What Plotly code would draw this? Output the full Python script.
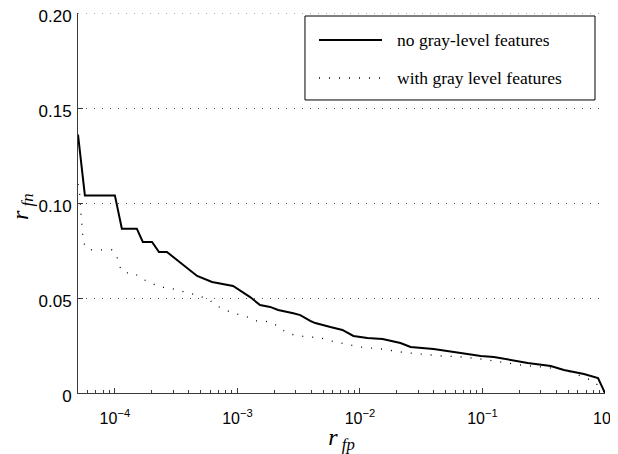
import math
import plotly.graph_objects as go

# ---- data (r_fp, r_fn) ----
no_gray_x = [5e-5, 5.69e-5, 1.0e-4, 1.14e-4, 1.51e-4, 1.69e-4, 2.01e-4, 2.29e-4, 2.66e-4,
             2.98e-4, 3.60e-4, 4.69e-4, 6.21e-4, 9.22e-4, 1.27e-3, 1.53e-3, 1.85e-3,
             2.15e-3, 2.86e-3, 3.26e-3, 3.93e-3, 4.32e-3, 5.74e-3, 7.19e-3, 8.85e-3,
             1.15e-2, 1.53e-2, 2.14e-2, 2.59e-2, 3.99e-2, 6.64e-2, 9.68e-2, 0.124,
             0.170, 0.234, 0.361, 0.462, 0.673, 0.877, 1.0]
no_gray_y = [0.136, 0.104, 0.104, 0.0865, 0.0865, 0.0795, 0.0795, 0.0742, 0.0742,
             0.0716, 0.0674, 0.0616, 0.0584, 0.0563, 0.0505, 0.0463, 0.0453,
             0.0437, 0.042, 0.041, 0.038, 0.0368, 0.0347, 0.0332, 0.030,
             0.029, 0.0284, 0.0263, 0.0242, 0.0232, 0.021, 0.0195, 0.019,
             0.0174, 0.0158, 0.0142, 0.0121, 0.010, 0.0079, 0.0]

gray_x = [5e-5, 5.18e-5, 5.30e-5, 5.47e-5, 5.69e-5, 6.49e-5, 9.45e-5, 1.04e-4, 1.10e-4,
          1.19e-4, 1.43e-4, 1.66e-4, 1.93e-4, 2.29e-4, 2.82e-4, 3.40e-4, 4.10e-4,
          4.95e-4, 5.76e-4, 6.83e-4, 7.94e-4, 9.40e-4, 1.16e-3, 1.40e-3, 1.62e-3,
          1.96e-3, 2.32e-3, 2.70e-3, 3.26e-3, 3.93e-3, 4.75e-3, 5.74e-3, 8.35e-3,
          1.01e-2, 1.47e-2, 2.14e-2, 3.13e-2, 4.56e-2, 6.64e-2, 9.68e-2, 0.141,
          0.206, 0.300, 0.437, 0.527, 0.637, 0.768, 0.928, 1.0]
gray_y = [0.11, 0.104, 0.093, 0.083, 0.077, 0.0753, 0.0753, 0.0716, 0.0663,
          0.0632, 0.0632, 0.060, 0.0584, 0.0558, 0.0553, 0.0537, 0.0526,
          0.051, 0.0495, 0.0458, 0.0437, 0.042, 0.0405, 0.038, 0.038,
          0.0368, 0.0332, 0.031, 0.030, 0.0295, 0.029, 0.0274, 0.0253,
          0.0242, 0.0232, 0.0216, 0.0205, 0.0195, 0.019, 0.0179, 0.0163,
          0.0147, 0.0137, 0.0126, 0.011, 0.009, 0.0068, 0.003, 0.0]

series_names = ["no gray-level features", "with gray level features"]

x_tickvals = [1e-4, 1e-3, 1e-2, 1e-1, 1]
x_ticktext = ["10<sup>\u22124</sup>", "10<sup>\u22123</sup>", "10<sup>\u22122</sup>",
              "10<sup>\u22121</sup>", "10<sup>0</sup>"]
y_tickvals = [0, 0.05, 0.10, 0.15, 0.20]
y_ticktext = ["0", "0.05", "0.10", "0.15", "0.20"]
x_range_min = 5e-5
x_range_max = 1.0

# minor log ticks (2..9 in each decade) inside the axis range
minor_vals = [m * 10.0 ** e for e in range(-5, 0) for m in range(2, 10)
              if x_range_min <= m * 10.0 ** e <= x_range_max]

serif = "Liberation Serif, DejaVu Serif, serif"
sans = "Liberation Sans, Arial, sans-serif"
axis_col = "#3a3a3a"
xr = [math.log10(x_range_min), math.log10(x_range_max)]

line_styles = [dict(color="black", width=2),
               dict(color="black", width=1.3, dash="1px,9px")]

fig = go.Figure()
fig.add_trace(go.Scatter(x=no_gray_x, y=no_gray_y, mode="lines",
                         name=series_names[0], line=line_styles[0]))
fig.add_trace(go.Scatter(x=gray_x, y=gray_y, mode="lines",
                         name=series_names[1], line=line_styles[1]))

# page body adds an 8px margin, so the figure is sized to fill the window after it
fig.update_layout(
    width=610, height=446,
    margin=dict(l=70, r=13, t=5, b=61, autoexpand=False),
    paper_bgcolor="white", plot_bgcolor="white",
    font=dict(family=sans, size=16, color="black"),
    showlegend=False,
    xaxis=dict(type="log", range=xr, automargin=False,
               tickvals=x_tickvals, ticktext=x_ticktext,
               ticks="inside", ticklen=5, tickcolor=axis_col,
               minor=dict(tickmode="array", tickvals=minor_vals, ticks="inside",
                          ticklen=3, tickcolor=axis_col, showgrid=False),
               showline=True, linecolor=axis_col, linewidth=1,
               showgrid=False, zeroline=False, ticklabeloverflow="allow",
               ticklabelstandoff=11,
               tickfont=dict(family=sans, size=16),
               title=dict(text="<i>r</i><sub> <i>fp</i></sub>", standoff=13,
                          font=dict(family=serif, size=24))),
    yaxis=dict(range=[0, 0.2], tickvals=y_tickvals, ticktext=y_ticktext, automargin=False,
               ticks="inside", ticklen=5, tickcolor=axis_col,
               showline=True, linecolor=axis_col, linewidth=1,
               showgrid=True, gridcolor="#555", griddash="1px,7px", gridwidth=1,
               zeroline=False, ticklabelstandoff=2, ticklabeloverflow="allow",
               ticklabelshift=3,
               tickfont=dict(family=sans, size=17)),
)
# y-axis title placed as rotated text left of the tick labels
fig.add_annotation(xref="paper", yref="paper", x=-0.106, y=0.49,
                   xanchor="center", yanchor="middle", showarrow=False, textangle=-90,
                   text="<i>r</i><sub> <i>fn</i></sub>",
                   font=dict(family=serif, size=24, color="black"))

# top grid line at the upper y limit (plotly omits the edge grid line)
fig.add_shape(type="line", xref="paper", x0=0, x1=1, yref="y",
              y0=y_tickvals[-1], y1=y_tickvals[-1],
              line=dict(color="#555", width=1, dash="1px,7px"))

# legend box drawn in the plot's upper right (paper coordinates)
fig.add_shape(type="rect", xref="paper", yref="paper",
              x0=0.4307, x1=0.981, y0=0.7711, y1=0.9921,
              line=dict(color="black", width=1), fillcolor="white", layer="above")
for i, ly in enumerate([0.9289, 0.8289]):
    fig.add_shape(type="line", xref="paper", yref="paper",
                  x0=0.4573, x1=0.5769, y0=ly, y1=ly,
                  line=line_styles[i], layer="above")
    fig.add_annotation(xref="paper", yref="paper", x=0.6015, y=ly,
                       xanchor="left", yanchor="middle", showarrow=False,
                       text=series_names[i],
                       font=dict(family=serif, size=17.5, color="black"))

fig.write_html("out.html")
